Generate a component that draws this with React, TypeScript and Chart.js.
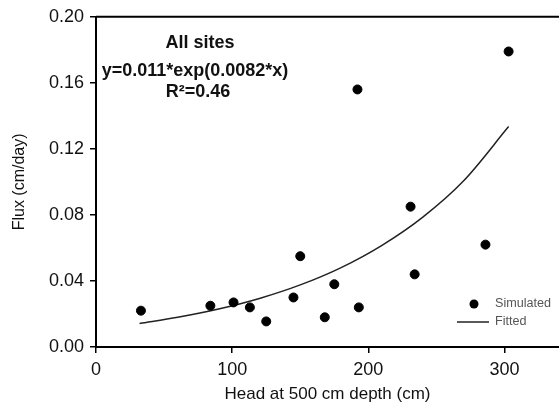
import React, { useEffect, useRef } from "react";
import { Chart, registerables } from "chart.js";

Chart.register(...registerables);

const simX = [33, 84, 101, 113, 125, 145, 150, 168, 175, 193, 192, 231, 234, 286, 303];
const simY = [0.022, 0.025, 0.027, 0.024, 0.0155, 0.030, 0.055, 0.018, 0.038, 0.024, 0.156, 0.085, 0.044, 0.062, 0.179];

const fitX = [32, 60, 90, 120, 150, 180, 210, 240, 270, 303];
const fitY = [0.0143, 0.018, 0.023, 0.0294, 0.0376, 0.0481, 0.0616, 0.0787, 0.1007, 0.1335];

const xTicks = [0, 100, 200, 300];
const annotationLines = ["All sites", "y=0.011*exp(0.0082*x)", "R²=0.46"];
const legendLabels = ["Simulated", "Fitted"];
const xTitle = "Head at 500 cm depth (cm)";
const yTitle = "Flux (cm/day)";

const FONT = "'Liberation Sans', Arial, sans-serif";

const overlay = {
  id: "overlay",
  afterDraw(chart: any) {
    const ctx = chart.ctx;
    const a = chart.chartArea;
    ctx.save();
    // top frame line
    ctx.strokeStyle = "#000";
    ctx.lineWidth = 2;
    ctx.beginPath();
    ctx.moveTo(a.left, a.top);
    ctx.lineTo(a.right, a.top);
    ctx.stroke();

    // annotation text
    ctx.fillStyle = "#111";
    ctx.textAlign = "center";
    ctx.textBaseline = "middle";
    ctx.font = `bold 18px ${FONT}`;
    ctx.fillText(annotationLines[0], 200, 43);
    ctx.fillText(annotationLines[1], 195, 71);
    ctx.fillText(annotationLines[2], 198, 92);

    // legend
    ctx.fillStyle = "#000";
    ctx.beginPath();
    ctx.arc(474, 304, 4.5, 0, Math.PI * 2);
    ctx.fill();
    ctx.strokeStyle = "#222";
    ctx.lineWidth = 1.5;
    ctx.beginPath();
    ctx.moveTo(457, 322);
    ctx.lineTo(489, 322);
    ctx.stroke();
    ctx.fillStyle = "#555";
    ctx.textAlign = "left";
    ctx.font = `12px ${FONT}`;
    ctx.save();
    ctx.translate(495, 304);
    ctx.scale(1.05, 1);
    ctx.fillText(legendLabels[0], 0, 0);
    ctx.restore();
    ctx.save();
    ctx.translate(495, 322);
    ctx.scale(1.05, 1);
    ctx.fillText(legendLabels[1], 0, 0);
    ctx.restore();
    ctx.restore();
  },
};

export default function App() {
  const ref = useRef<HTMLCanvasElement>(null);
  useEffect(() => {
    if (!ref.current) return;
    const chart = new Chart(ref.current, {
      type: "scatter",
      data: {
        datasets: [
          {
            label: legendLabels[0],
            data: simX.map((x, i) => ({ x, y: simY[i] })),
            backgroundColor: "#000",
            borderColor: "#000",
            pointRadius: 4.5,
            pointHoverRadius: 4.5,
          },
          {
            label: legendLabels[1],
            type: "line",
            data: fitX.map((x, i) => ({ x, y: fitY[i] })),
            borderColor: "#222",
            borderWidth: 1.5,
            pointRadius: 0,
            fill: false,
            cubicInterpolationMode: "monotone",
          } as any,
        ],
      },
      options: {
        animation: false,
        responsive: false,
        maintainAspectRatio: false,
        layout: { autoPadding: false, padding: { left: 0, right: 0, top: 16, bottom: 0 } },
        plugins: { legend: { display: false }, tooltip: { enabled: false } },
        scales: {
          x: {
            type: "linear",
            min: 0,
            max: 340,
            afterFit: (s: any) => {
              s.height = 58;
            },
            afterBuildTicks: (s: any) => {
              s.ticks = xTicks.map((v) => ({ value: v }));
            },
            ticks: {
              color: "#111",
              font: { family: FONT, size: 18 },
              padding: 6,
              maxRotation: 0,
            },
            grid: {
              drawOnChartArea: false,
              drawTicks: true,
              tickLength: 6,
              color: "#000",
              lineWidth: 1.5,
            },
            border: { display: true, color: "#000", width: 2 },
            title: {
              display: true,
              text: xTitle,
              color: "#111",
              font: { family: FONT, size: 17 },
              padding: { top: 0, bottom: 0 },
            },
          },
          y: {
            type: "linear",
            min: 0,
            max: 0.2,
            afterFit: (s: any) => {
              s.width = 96;
            },
            ticks: {
              stepSize: 0.04,
              color: "#111",
              font: { family: FONT, size: 18 },
              padding: 6,
              callback: (v: any) => Number(v).toFixed(2),
            },
            grid: {
              drawOnChartArea: false,
              drawTicks: true,
              tickLength: 6,
              color: "#000",
              lineWidth: 1.5,
            },
            border: { display: true, color: "#000", width: 2 },
            title: {
              display: true,
              text: yTitle,
              color: "#111",
              font: { family: FONT, size: 16 },
              padding: { top: 10, bottom: 0 },
            },
          },
        },
      },
      plugins: [overlay],
    });
    return () => chart.destroy();
  }, []);
  return (
    <div style={{ position: "fixed", left: 0, top: 0, width: 559, height: 405, background: "#fff" }}>
      <canvas ref={ref} width={559} height={405} />
    </div>
  );
}
